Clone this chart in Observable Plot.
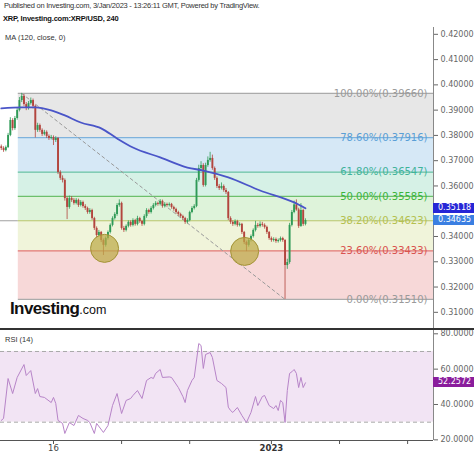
<!DOCTYPE html>
<html><head><meta charset="utf-8">
<script src="https://cdn.jsdelivr.net/npm/d3@7"></script>
<script src="https://cdn.jsdelivr.net/npm/@observablehq/plot@0.6"></script>
<style>
body{margin:0;background:#fff;}
#wrap{position:relative;width:474px;height:453px;overflow:hidden;font-family:"Liberation Sans",Arial,sans-serif;}
.abs{position:absolute;white-space:nowrap;}
.box{position:absolute;left:433px;width:41px;height:10px;color:#fff;font-family:"DejaVu Sans",sans-serif;font-size:8px;line-height:10px;padding-left:5px;box-sizing:border-box;overflow:hidden;white-space:nowrap;}
</style></head><body><div id="wrap">
<div class="abs" style="left:4px;top:1px;font-size:7.5px;letter-spacing:-0.25px;color:#333;line-height:9px">Published on Investing.com, 3/Jan/2023 - 13:26:11 GMT, Powered by TradingView.</div>
<div class="abs" style="left:3px;top:14px;font-size:7.5px;font-weight:bold;letter-spacing:-0.2px;color:#111;line-height:9px">XRP, Investing.com:XRP/USD, 240</div>
<div id="main" class="abs" style="left:0;top:27px"></div>
<div id="rsi" class="abs" style="left:0;top:330px"></div>
<div class="abs" style="left:5px;top:33px;font-size:7.5px;color:#333;line-height:9px">MA (120, close, 0)</div>
<div class="abs" style="left:5px;top:335px;font-size:7.5px;color:#333;line-height:9px">RSI (14)</div>
<div class="abs" style="left:10px;top:300px;line-height:17px;color:#111"><span style="font-size:17px;font-weight:bold;letter-spacing:-0.6px">Investing</span><span style="font-size:12.5px">.com</span></div>
<div class="abs" style="left:0;top:328px;width:474px;height:1.6px;background:#333"></div>
</div>
<script>
// 4-hour candles, XRP/USD, first candle 12 Dec 2022 04:00 UTC
const open = [0.3755,0.3748,0.3740,0.3752,0.3800,0.3859,0.3827,0.3867,0.3899,0.3938,0.3954,0.3922,0.3907,0.3926,0.3938,0.3915,0.3820,0.3839,0.3820,0.3804,0.3812,0.3796,0.3788,0.3792,0.3780,0.3788,0.3653,0.3630,0.3622,0.3550,0.3515,0.3550,0.3543,0.3531,0.3543,0.3523,0.3535,0.3519,0.3511,0.3495,0.3503,0.3471,0.3432,0.3404,0.3416,0.3384,0.3365,0.3392,0.3416,0.3444,0.3471,0.3487,0.3523,0.3531,0.3432,0.3424,0.3440,0.3456,0.3444,0.3463,0.3448,0.3471,0.3459,0.3448,0.3479,0.3503,0.3495,0.3511,0.3523,0.3531,0.3527,0.3539,0.3519,0.3527,0.3523,0.3527,0.3515,0.3507,0.3495,0.3487,0.3479,0.3471,0.3456,0.3463,0.3495,0.3511,0.3519,0.3622,0.3669,0.3681,0.3602,0.3681,0.3701,0.3709,0.3669,0.3630,0.3598,0.3590,0.3598,0.3582,0.3574,0.3471,0.3456,0.3448,0.3459,0.3444,0.3448,0.3416,0.3376,0.3365,0.3384,0.3400,0.3424,0.3444,0.3440,0.3448,0.3444,0.3436,0.3416,0.3392,0.3384,0.3388,0.3380,0.3384,0.3392,0.3384,0.3285,0.3297,0.3444,0.3495,0.3525,0.3505,0.3440,0.3503,0.3448];
const high = [0.3762,0.3755,0.3758,0.3808,0.3870,0.3866,0.3875,0.3906,0.3950,0.3966,0.3962,0.3930,0.3934,0.3948,0.3944,0.3920,0.3848,0.3845,0.3826,0.3820,0.3818,0.3802,0.3800,0.3798,0.3795,0.3792,0.3660,0.3640,0.3628,0.3556,0.3560,0.3558,0.3550,0.3550,0.3548,0.3542,0.3540,0.3526,0.3516,0.3510,0.3508,0.3476,0.3438,0.3424,0.3420,0.3390,0.3398,0.3422,0.3450,0.3478,0.3494,0.3530,0.3545,0.3536,0.3440,0.3446,0.3462,0.3462,0.3470,0.3468,0.3480,0.3476,0.3464,0.3486,0.3510,0.3508,0.3518,0.3530,0.3538,0.3536,0.3546,0.3544,0.3534,0.3532,0.3533,0.3531,0.3520,0.3512,0.3500,0.3492,0.3484,0.3476,0.3470,0.3500,0.3518,0.3526,0.3630,0.3682,0.3696,0.3688,0.3690,0.3715,0.3733,0.3722,0.3675,0.3636,0.3606,0.3612,0.3604,0.3590,0.3578,0.3478,0.3462,0.3466,0.3464,0.3454,0.3452,0.3420,0.3382,0.3390,0.3406,0.3430,0.3460,0.3452,0.3458,0.3456,0.3450,0.3441,0.3420,0.3398,0.3395,0.3394,0.3390,0.3398,0.3397,0.3388,0.3310,0.3452,0.3503,0.3540,0.3545,0.3512,0.3530,0.3508,0.3470];
const low = [0.3740,0.3733,0.3735,0.3748,0.3795,0.3818,0.3820,0.3860,0.3893,0.3930,0.3915,0.3898,0.3900,0.3920,0.3905,0.3790,0.3812,0.3812,0.3796,0.3798,0.3788,0.3780,0.3782,0.3760,0.3772,0.3645,0.3622,0.3612,0.3540,0.3467,0.3508,0.3535,0.3524,0.3525,0.3515,0.3517,0.3512,0.3503,0.3488,0.3488,0.3464,0.3424,0.3396,0.3398,0.3376,0.3325,0.3358,0.3386,0.3410,0.3438,0.3465,0.3480,0.3516,0.3425,0.3416,0.3418,0.3434,0.3437,0.3438,0.3441,0.3442,0.3452,0.3440,0.3442,0.3472,0.3488,0.3489,0.3505,0.3517,0.3520,0.3521,0.3512,0.3513,0.3516,0.3517,0.3508,0.3500,0.3488,0.3480,0.3472,0.3464,0.3448,0.3450,0.3458,0.3490,0.3505,0.3514,0.3615,0.3660,0.3595,0.3596,0.3674,0.3694,0.3662,0.3622,0.3590,0.3582,0.3584,0.3575,0.3566,0.3463,0.3448,0.3440,0.3442,0.3437,0.3438,0.3408,0.3368,0.3340,0.3358,0.3378,0.3394,0.3418,0.3433,0.3434,0.3437,0.3429,0.3408,0.3385,0.3377,0.3378,0.3373,0.3374,0.3378,0.3377,0.3151,0.3270,0.3290,0.3438,0.3490,0.3500,0.3432,0.3436,0.3440,0.3442];
const close = [0.3748,0.3740,0.3752,0.3800,0.3859,0.3827,0.3867,0.3899,0.3938,0.3954,0.3922,0.3907,0.3926,0.3938,0.3915,0.3820,0.3839,0.3820,0.3804,0.3812,0.3796,0.3788,0.3792,0.3780,0.3788,0.3653,0.3630,0.3622,0.3550,0.3515,0.3550,0.3543,0.3531,0.3543,0.3523,0.3535,0.3519,0.3511,0.3495,0.3503,0.3471,0.3432,0.3404,0.3416,0.3384,0.3365,0.3392,0.3416,0.3444,0.3471,0.3487,0.3523,0.3531,0.3432,0.3424,0.3440,0.3456,0.3444,0.3463,0.3448,0.3471,0.3459,0.3448,0.3479,0.3503,0.3495,0.3511,0.3523,0.3531,0.3527,0.3539,0.3519,0.3527,0.3523,0.3527,0.3515,0.3507,0.3495,0.3487,0.3479,0.3471,0.3456,0.3463,0.3495,0.3511,0.3519,0.3622,0.3669,0.3681,0.3602,0.3681,0.3701,0.3709,0.3669,0.3630,0.3598,0.3590,0.3598,0.3582,0.3574,0.3471,0.3456,0.3448,0.3459,0.3444,0.3448,0.3416,0.3376,0.3365,0.3384,0.3400,0.3424,0.3444,0.3440,0.3448,0.3444,0.3436,0.3416,0.3392,0.3384,0.3388,0.3380,0.3384,0.3392,0.3384,0.3285,0.3297,0.3444,0.3495,0.3525,0.3505,0.3440,0.3503,0.3448,0.3463];

// MA(120, close) read at candle positions
const maCandle = [0,9,15,22,28,35,44,51,58,70,82,89,100,114,129,134];
const maValue = [0.3907,0.3911,0.3911,0.3899,0.3879,0.3851,0.3828,0.3788,0.3752,0.3713,0.3673,0.3661,0.3634,0.3582,0.3535,0.35118];

// RSI(14) read at candle positions
const rsiCandle = [0,1,3,5,7,10,11,13,15,16,17,19,22,23,24,25,27,28,30,32,34,36,38,39,41,42,45,47,49,51,53,55,57,58,60,62,64,66,67,68,70,71,74,75,78,80,81,82,84,85,87,88,89,90,92,93,95,97,99,100,101,102,104,106,108,110,112,113,115,116,118,120,121,122,123,124,125,126,127,128,129,130,131,132,133,134];
const rsiValue = [31.0,32.1,54.7,46.2,55.3,62.6,56.4,59.2,46.2,49.0,44.5,44.0,41.1,44.0,40.6,31.0,29.3,23.6,29.8,28.1,33.8,32.1,31.0,29.8,23.6,29.3,24.2,28.1,39.4,46.2,34.9,42.3,43.4,45.1,47.9,43.4,53.6,55.3,54.7,57.6,59.8,55.3,55.6,55.3,49.6,44.5,41.1,47.9,53.6,55.3,74.5,73.4,60.4,68.3,69.4,66.6,53.6,51.9,49.6,38.5,36.6,35.5,38.3,33.8,29.8,35.5,44.5,39.4,44.5,45.1,39.4,37.7,39.4,36.6,42.3,41.1,29.8,47.9,57.6,58.5,59.8,57.6,49.6,55.3,49.6,52.2572];

// Fibonacci retracement (high candle 9 -> low candle 125)
const fibLevel = [1, 0.786, 0.618, 0.5, 0.382, 0.236, 0];
const fibPrice = [0.3966, 0.37916, 0.36547, 0.35585, 0.34623, 0.33433, 0.3151];
const fibLine = ["#ababab","#7fb2dc","#66bfa5","#6cc06c","#b5c46a","#e27a74","#ababab"];
const fibText = ["#9a9a9a","#5a9fd6","#3fb39a","#3cb43c","#b4c050","#d9534f","#9a9a9a"];
const fibZone = ["#e7e7e7","#d6e8f6","#d6f1e6","#def3da","#f0f4da","#f7d8d8"];
const fibHighCandle = 9, fibLowCandle = 125;

const circleCandle = [45.5, 107.2];
const circlePrice = [0.3353, 0.3341];

// 0.35000 is hidden behind the last-value labels in the reference
const priceTicks = [0.31,0.32,0.33,0.34,0.36,0.37,0.38,0.39,0.40,0.41,0.42];
const rsiTicks = [20,40,60,80];
const dateTicks = ["2022-12-16","2022-12-21","2022-12-26","2023-01-01","2023-01-06","2023-01-11"];
const dateLabels = [{d:"2022-12-16", t:"16", bold:false},{d:"2023-01-01", t:"2023", bold:true}];

const maLabel = 0.35118, lastLabel = 0.34635, rsiLabel = 52.2572;

const UP = "#2f9a57", DOWN = "#b3453e";
const T0 = Date.UTC(2022, 11, 12, 4), STEP = 4*3600*1000;
const at = i => new Date(T0 + i*STEP);
const X0 = new Date(Date.UTC(2022,11,12,2,38)), X1 = new Date(Date.UTC(2023,0,12,21,36));
const fibStart = new Date(Date.UTC(2022,11,13,10));

const candles = close.map((c,i)=>({date:at(i), open:open[i], high:high[i], low:low[i], close:c, col: c>=open[i]?UP:DOWN}));
const ma = maCandle.map((c,i)=>({date:at(c), value:maValue[i]}));
const rsi = rsiCandle.map((c,i)=>({date:at(c), value:rsiValue[i]}));
const fib = fibLevel.map((l,i)=>({level:l, price:fibPrice[i], line:fibLine[i], text:fibText[i], x1:fibStart, x2:X1}));
const zones = fibZone.map((f,i)=>({y1:fibPrice[i], y2:fibPrice[i+1], fill:f, x1:fibStart, x2:X1}));
const trend = [{date:at(fibHighCandle), price:fibPrice[0]},{date:at(fibLowCandle), price:fibPrice[6]}];
const circles = circleCandle.map((c,i)=>({date:at(c), price:circlePrice[i]}));

const main = Plot.plot({
  width:474, height:302, marginLeft:0, marginRight:41, marginTop:0, marginBottom:0,
  style:{fontFamily:"DejaVu Sans, sans-serif", background:"transparent", overflow:"visible"},
  x:{type:"utc", domain:[X0,X1], axis:null},
  y:{domain:[0.3032,0.4227], axis:null},
  color:{type:"identity"},
  marks:[
    Plot.rect(zones,{x1:"x1",x2:"x2",y1:"y1",y2:"y2",fill:"fill"}),
    Plot.ruleY([{price:fibPrice[4], x1:X0, x2:fibStart}],{y:"price",x1:"x1",x2:"x2",stroke:"#a0a0a0"}),
    Plot.ruleY(fib,{y:"price",x1:"x1",x2:"x2",stroke:"line",strokeWidth:1.2}),
    Plot.line(trend,{x:"date",y:"price",stroke:"#9a9a9a",strokeDasharray:"3,3",strokeWidth:1}),
    Plot.ruleX(candles,{x:"date",y1:"low",y2:"high",stroke:"col",strokeWidth:0.8}),
    Plot.ruleX(candles,{x:"date",y1:"open",y2:"close",stroke:"col",strokeWidth:1.9}),
    Plot.line(ma,{x:"date",y:"value",stroke:"#4a55c8",strokeWidth:1.8,curve:"monotone-x"}),
    Plot.dot(circles,{x:"date",y:"price",r:14,fill:"#bcaa46",fillOpacity:0.72,stroke:"#a39335",strokeWidth:1}),
    Plot.text(fib,{x:"x2",y:"price",text:d=>`${(d.level*100).toFixed(2)}%(${d.price.toFixed(5)})`,fill:"text",textAnchor:"end",dx:-6,fontSize:10}),
    Plot.ruleX([X1],{stroke:"#888"}),
    Plot.axisY({anchor:"right",ticks:priceTicks,tickFormat:d3.format(".5f"),tickSize:4,tickPadding:3,fontSize:8,color:"#666"})
  ]
});
document.getElementById("main").appendChild(main);

const rsiPlot = Plot.plot({
  width:474, height:123, marginLeft:0, marginRight:41, marginTop:0, marginBottom:13,
  style:{fontFamily:"DejaVu Sans, sans-serif", background:"transparent", overflow:"visible"},
  x:{type:"utc", domain:[X0,X1], axis:null},
  y:{domain:[19.63,81.87], axis:null},
  marks:[
    Plot.rect([{x1:X0,x2:X1,y1:30,y2:70}],{x1:"x1",x2:"x2",y1:"y1",y2:"y2",fill:"#f2e4f4"}),
    Plot.ruleY([30,70],{stroke:"#a8a8a8",strokeDasharray:"4,3"}),
    Plot.line(rsi,{x:"date",y:"value",stroke:"#b784c8",strokeWidth:1}),
    Plot.ruleY([19.63],{stroke:"#555"}),
    Plot.ruleX([X1],{stroke:"#888"}),
    Plot.axisY({anchor:"right",ticks:rsiTicks,tickFormat:d3.format(".4f"),tickSize:4,tickPadding:3,fontSize:8,color:"#666"}),
    Plot.axisX({anchor:"bottom",ticks:dateTicks.map(d=>new Date(d+"T00:00:00Z")),tickFormat:()=>"",tickSize:4,stroke:"#555"}),
    Plot.text(dateLabels.filter(d=>!d.bold),{x:d=>new Date(d.d+"T00:00:00Z"),y:19.63,dy:8,text:"t",fontSize:8.5,fill:"#444"}),
    Plot.text(dateLabels.filter(d=>d.bold),{x:d=>new Date(d.d+"T00:00:00Z"),y:19.63,dy:8,text:"t",fontSize:8.5,fontWeight:"bold",fill:"#333"})
  ]
});
document.getElementById("rsi").appendChild(rsiPlot);

const wrap = document.getElementById("wrap");
function box(top, txt, bg){
  const b = document.createElement("div");
  b.className = "box"; b.style.top = (top-5)+"px"; b.style.background = bg; b.textContent = txt;
  wrap.appendChild(b);
}
const ys = main.scale("y"), rs = rsiPlot.scale("y");
box(27 + ys.apply(maLabel), maLabel.toFixed(5), "#2626d6");
box(27 + ys.apply(lastLabel), lastLabel.toFixed(5), "#3b7fe2");
box(330 + rs.apply(rsiLabel), rsiLabel.toFixed(4), "#8a1d9c");
</script>
</body></html>
